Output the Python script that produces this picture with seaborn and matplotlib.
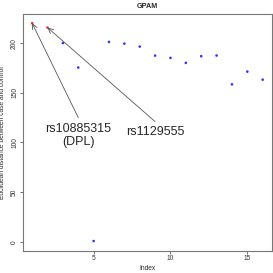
import numpy as np
import pandas as pd
import matplotlib
matplotlib.use('Agg')
import matplotlib.pyplot as plt
import seaborn as sns

# values
index = list(range(1, 17))
distance = [220, 215.6, 200, 175.4, 0.8, 201.2, 199.5, 196.5, 187.4, 185.1,
            180.1, 186.8, 187.5, 158.5, 171.3, 163.2]
highlight = ['red', 'red'] + ['blue'] * 14

labels = ['rs10885315\n(DPL)', 'rs1129555']
label_x = [4, 9]
label_y = [107, 111]
arrow_tail_y = [125, 121]

df = pd.DataFrame({'Index': index, 'dist': distance, 'col': highlight})

sns.set_style('white')
plt.rcParams['font.family'] = ['Liberation Sans', 'DejaVu Sans']

fig = plt.figure(figsize=(2.73, 2.73), dpi=100)
ax = fig.add_axes([0.084, 0.082, 0.912, 0.865])

sns.scatterplot(data=df, x='Index', y='dist', hue='col',
                palette={'red': '#ff2020', 'blue': '#3030ff'},
                s=3.5, marker='o', linewidth=0, legend=False, ax=ax)

for lab, lx, ly, ty, px in zip(labels, label_x, label_y, arrow_tail_y, [0, 1]):
    ax.annotate('', xy=(index[px], distance[px]), xytext=(lx, ty),
                arrowprops=dict(arrowstyle='->', color='#555555', lw=0.6,
                                shrinkA=0, shrinkB=0, mutation_scale=9))
    ax.text(lx, ly, lab, ha='center', va='center', fontsize=9, linespacing=1.1)

ax.set_xlim(0.4, 16.6)
ax.set_ylim(-8.8, 228.8)
ax.set_xticks([5, 10, 15])
ax.set_yticks([0, 50, 100, 150, 200])
ax.tick_params(axis='both', labelsize=4.8, length=2, width=0.5,
               colors='#333333', pad=1.5, left=True, bottom=True)
for lbl in ax.get_yticklabels():
    lbl.set_rotation(90)
    lbl.set_va('center')
for sp in ax.spines.values():
    sp.set_color('#777777')
    sp.set_linewidth(0.8)

ax.set_xlabel('Index', fontsize=4.8)
ax.set_ylabel('Euclidean distance between case and control', fontsize=4.8)
ax.xaxis.set_label_coords(0.5, -0.06)
ax.yaxis.set_label_coords(-0.068, 0.5)
ax.set_title('GPAM', fontsize=5.2, fontweight='bold', pad=5)

fig.savefig('out.png', dpi=100)
